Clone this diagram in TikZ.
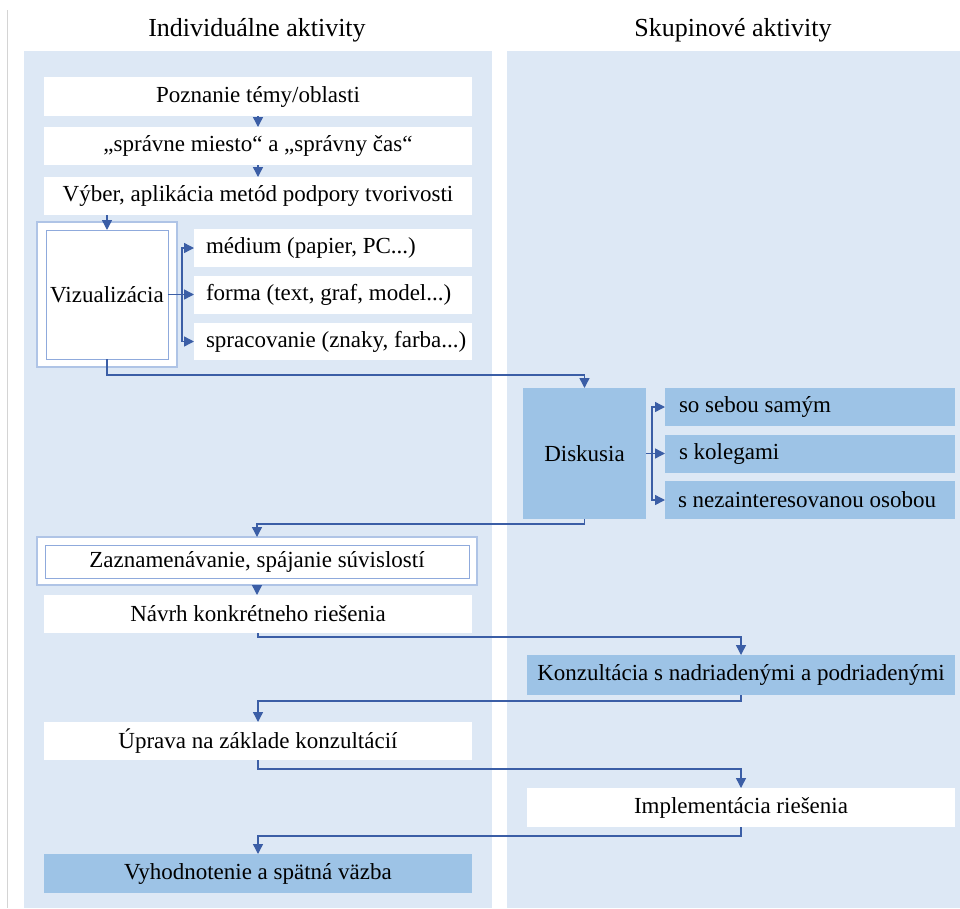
\documentclass[tikz,border=0pt]{standalone}
\usepackage{fontspec}
\setmainfont{Liberation Serif}
\usetikzlibrary{arrows.meta,calc}

\definecolor{lane}{HTML}{DDE8F5}
\definecolor{accent}{HTML}{9DC3E6}
\definecolor{frameout}{HTML}{AFC4E6}
\definecolor{framein}{HTML}{8FAADC}
\definecolor{flow}{HTML}{3B5EA6}
\definecolor{rule}{HTML}{D4D4D4}

\tikzset{
  boxfont/.style={font=\fontsize{23}{27}\selectfont},
  box/.style={inner sep=0pt, outer sep=0pt, boxfont},
  wbox/.style={box, fill=white},
  bbox/.style={box, fill=accent},
  itemtext/.style={inner sep=0pt, outer sep=0pt, anchor=west, boxfont},
  outerframe/.style={inner sep=0pt, outer sep=0pt, fill=white, draw=frameout, line width=1.3pt},
  innerframe/.style={inner sep=0pt, outer sep=0pt, fill=white, draw=framein, line width=1pt, boxfont},
  arr/.style={draw=flow, line width=1.4pt, -{Triangle[length=10pt,width=10pt]}},
  lanetitle/.style={font=\fontsize{26}{30}\selectfont}
}

\begin{document}
\begin{tikzpicture}[x=1pt,y=-1pt]
  \useasboundingbox (0,0) rectangle (960,908);

  % page rule and the two lanes
  \draw[rule, line width=1pt] (7,10) -- (7,908);
  \fill[lane] (24,51) rectangle (492,908);
  \fill[lane] (507,51) rectangle (960,908);
  \node[lanetitle] (t1) at (257,30) {Individuálne aktivity};
  \node[lanetitle] (t2) at (733,30) {Skupinové aktivity};

  % individual steps
  \node[wbox, minimum width=428pt, minimum height=39pt] (b1) at (258,96.5) {Poznanie témy/oblasti};
  \node[wbox, minimum width=428pt, minimum height=38pt] (b2) at (258,146) {„správne miesto“ a „správny čas“};
  \node[wbox, minimum width=428pt, minimum height=38pt] (b3) at (258,196) {Výber, aplikácia metód podpory tvorivosti};

  % visualisation block
  \node[outerframe, minimum width=140pt, minimum height=145pt] (vizout) at (107,294.5) {};
  \node[innerframe, minimum width=122pt, minimum height=129pt] (vizin) at (107,294.5) {Vizualizácia};
  \node[wbox, minimum width=278pt, minimum height=38pt] (med) at (333,248) {};
  \node[wbox, minimum width=278pt, minimum height=38pt] (forma) at (333,294.5) {};
  \node[wbox, minimum width=278pt, minimum height=37pt] (sprac) at (333,341.5) {};
  \node[itemtext] (medt) at ($(med.west)+(12,0)$) {médium (papier, PC...)};
  \node[itemtext] (format) at ($(forma.west)+(12,0)$) {forma (text, graf, model...)};
  \node[itemtext] (spract) at ($(sprac.west)+(12,0)$) {spracovanie (znaky, farba...)};

  % discussion block
  \node[bbox, minimum width=123pt, minimum height=131pt] (disk) at (584.5,453.5) {Diskusia};
  \node[bbox, minimum width=290pt, minimum height=38pt] (ss) at (810,407) {};
  \node[bbox, minimum width=290pt, minimum height=38pt] (sk) at (810,453.5) {};
  \node[bbox, minimum width=290pt, minimum height=38pt] (sn) at (810,500) {};
  \node[itemtext] (sst) at ($(ss.west)+(14,0)$) {so sebou samým};
  \node[itemtext] (skt) at ($(sk.west)+(14,0)$) {s kolegami};
  \node[itemtext] (snt) at ($(sn.west)+(13,0)$) {s nezainteresovanou osobou};

  % remaining steps
  \node[outerframe, minimum width=440pt, minimum height=48pt] (zazout) at (257,561) {};
  \node[innerframe, minimum width=424pt, minimum height=33pt] (zazin) at (257,561.5) {Zaznamenávanie, spájanie súvislostí};
  \node[wbox, minimum width=428pt, minimum height=38pt] (navrh) at (258,614) {Návrh konkrétneho riešenia};
  \node[bbox, minimum width=428pt, minimum height=40pt] (konz) at (741,675) {Konzultácia s nadriadenými a podriadenými};
  \node[wbox, minimum width=428pt, minimum height=38pt] (uprava) at (258,741) {Úprava na základe konzultácií};
  \node[wbox, minimum width=428pt, minimum height=39pt] (impl) at (741,807.5) {Implementácia riešenia};
  \node[bbox, minimum width=428pt, minimum height=39pt] (vyhod) at (258,873.5) {Vyhodnotenie a spätná väzba};

  % flow
  \draw[arr] (b1.south) -- (b2.north);
  \draw[arr] (b2.south) -- (b3.north);
  \draw[arr] (b3.south -| vizin.north) -- (vizin.north);

  \coordinate (vb) at (182,294.5);
  \draw[arr] (vizin.east) -- (forma.west);
  \draw[arr] (vb) |- (med.west);
  \draw[arr] (vb) |- (sprac.west);

  \draw[arr] (vizin.south) -- ++(0,16) -| (disk.north);

  \coordinate (db) at (652,453.5);
  \draw[arr] (disk.east) -- (sk.west);
  \draw[arr] (db) |- (ss.west);
  \draw[arr] (db) |- (sn.west);

  \draw[arr] (disk.south) -- ++(0,5) -| (zazout.north);
  \draw[arr] (zazout.south) -- (zazout.south |- navrh.north);
  \draw[arr] (navrh.south) -- ++(0,4) -| (konz.north);
  \draw[arr] (konz.south) -- ++(0,6) -| (uprava.north);
  \draw[arr] (uprava.south) -- ++(0,9) -| (impl.north);
  \draw[arr] (impl.south) -- ++(0,9) -| (vyhod.north);
\end{tikzpicture}
\end{document}
